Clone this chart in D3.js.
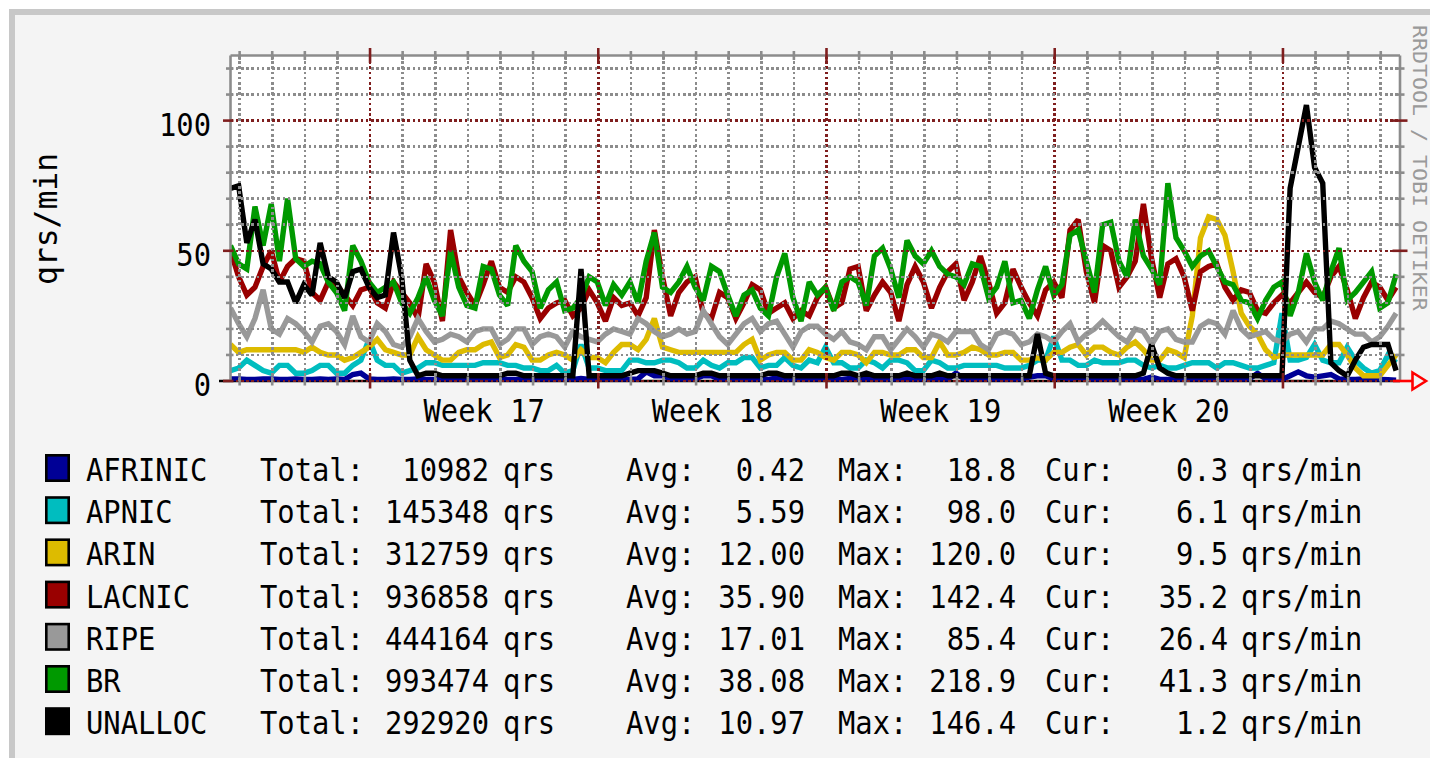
<!DOCTYPE html>
<html><head><meta charset="utf-8">
<script src="https://cdn.jsdelivr.net/npm/d3@7"></script>
<style>body{margin:0;background:#fff}svg{display:block}</style>
</head><body>
<svg id="c" width="1430" height="758"></svg>
<script>
// ---- data (6-hour samples, 144 per series) ----
const seriesNames = ["AFRINIC","APNIC","ARIN","LACNIC","RIPE","BR","UNALLOC"];
const seriesColors = ["#000096","#00bdbf","#ddbb00","#990000","#999999","#009900","#000000"];
const afrinic = [0.8,0.8,0.6,0.6,0.8,0.8,0.6,0.6,0.8,0.6,0.6,0.8,
  0.6,0.8,0.6,2.5,3,0.8,0.6,0.6,0.8,0.6,0.6,0.8,
  0.6,0.6,0.8,0.6,0.6,0.8,0.6,0.6,0.6,0.8,0.6,0.6,
  0.6,0.8,0.6,0.6,0.6,0.8,0.6,1,0.6,0.6,0.8,0.6,
  0.6,0.6,0.8,3.5,2,2,0.8,0.6,0.6,0.8,2,2,
  0.6,0.6,0.8,0.6,0.6,0.8,0.6,1.2,0.6,0.6,0.8,0.6,
  0.6,0.8,0.6,0.6,1,0.6,0.6,0.8,0.6,0.6,0.8,0.6,
  0.6,0.6,0.8,0.6,0.6,3,0.8,0.6,0.6,0.8,0.6,0.6,
  0.6,0.8,1.5,2,2,0.8,1.5,0.8,1.5,0.8,0.6,0.8,
  0.6,0.6,0.8,0.6,0.6,1.5,0.6,0.6,0.8,0.6,0.6,0.8,
  0.6,0.6,0.8,0.6,0.6,0.8,3,0.8,0.6,0.6,2,3.5,
  2,1.5,2,2.5,0.8,0.6,0.6,0.8,0.6,0.6,0.5,0.3];
const apnic = [4,5,8,6,4,3,6,6,3,3,4,6,
  6,3,3,6,8,16,8,6,6,3,4,5,
  7,7,6,6,6,6,6,7,7,7,6,6,
  5,5,4,4,6,3,4,14,5,5,4,4,
  4,8,8,7,7,8,8,7,5,5,8,6,
  5,7,7,9,9,5,6,6,9,6,5,8,
  7,13,7,7,5,5,8,7,5,8,8,7,
  4,4,8,7,5,5,6,6,6,6,6,5,
  5,5,6,8,8,17,8,8,6,6,8,7,
  7,7,8,8,6,5,6,5,5,6,7,7,
  7,5,7,7,6,5,5,6,7,26,8,8,
  9,14,8,7,7,13,8,5,3,4,10,7];
const arin = [14,11,12,12,12,12,12,12,12,11,13,11,
  10,10,8,9,11,13,16,12,11,10,10,17,
  12,10,8,8,11,12,12,14,15,9,10,14,
  13,8,8,10,11,10,8,12,9,9,7,11,
  14,14,12,16,24,13,12,11,11,11,11,11,
  11,11,11,14,16,8,10,11,11,8,8,12,
  11,9,8,11,11,10,7,11,11,10,10,12,
  12,9,9,15,10,10,11,13,12,10,10,11,
  11,8,8,9,8,11,11,13,14,10,13,13,
  11,10,13,15,12,8,8,12,11,9,25,55,
  63,62,56,42,26,21,18,12,9,10,10,10,
  10,10,10,14,14,10,5,2,2,2,6,10];
const lacnic = [50,40,33,36,44,50,38,44,47,46,34,31,
  38,37,33,29,35,36,30,28,38,34,30,24,
  45,38,23,58,40,34,29,37,46,36,34,40,
  38,32,24,28,30,31,25,28,35,30,23,32,
  29,30,25,32,58,40,25,34,38,40,26,24,
  34,32,24,30,37,35,26,28,30,24,27,25,
  32,36,28,30,43,44,27,33,38,34,23,37,
  44,38,28,36,42,45,31,38,48,38,26,30,
  43,36,30,25,35,38,32,58,62,42,30,52,
  50,36,40,46,68,47,32,45,47,40,27,42,
  44,45,36,31,35,34,27,26,30,33,30,34,
  38,34,32,40,44,35,24,32,38,36,31,36];
const ripe = [28,22,17,24,35,20,18,24,22,19,15,21,
  22,19,14,25,17,15,22,19,14,13,17,24,
  19,15,16,18,17,15,19,20,20,14,16,20,
  20,14,17,18,17,13,19,17,16,15,18,20,
  19,18,24,22,19,17,18,20,18,19,27,22,
  17,14,18,22,24,19,22,23,18,13,19,21,
  21,18,16,19,15,14,12,17,17,12,16,20,
  17,13,18,17,15,19,19,19,14,12,18,19,
  18,14,15,18,17,15,19,22,15,18,20,23,
  20,17,15,20,19,14,19,20,16,15,15,21,
  23,22,18,27,20,17,18,19,16,15,18,19,
  15,20,20,23,22,20,18,18,15,17,21,26];
const br = [52,45,43,67,52,68,46,70,47,44,46,45,
  38,34,27,52,46,38,34,36,38,30,26,32,
  40,31,25,50,36,29,28,44,43,33,29,52,
  46,42,28,35,38,27,28,32,40,38,29,37,
  33,38,30,46,57,36,34,38,44,36,31,44,
  42,33,25,33,35,28,25,40,49,32,23,38,
  33,36,27,38,40,38,29,48,51,43,32,54,
  48,45,50,44,41,40,37,45,44,32,36,46,
  30,31,24,35,44,33,37,56,58,46,34,60,
  61,46,40,62,48,43,37,76,55,50,44,48,
  50,44,38,37,31,30,24,31,36,38,25,34,
  49,38,31,42,51,31,34,38,42,28,30,41];
const unalloc = [74,75,53,62,45,43,38,38,30,37,33,53,
  40,38,32,42,43,36,32,33,57,40,8,2,
  3,3,2,2,2,2,2,2,2,2,3,3,
  2,2,2,2,2,2,2,43,2,2,2,2,
  2,3,4,4,4,3,2,2,2,2,3,3,
  2,2,2,2,2,2,3,3,2,2,2,2,
  2,2,2,3,3,2,3,2,2,2,2,3,
  2,2,2,3,2,2,2,2,2,2,2,2,
  2,2,2,18,3,2,2,2,2,2,2,2,
  2,2,2,2,3,14,5,3,2,2,2,2,
  2,2,2,2,2,2,2,2,2,2,74,90,
  106,82,76,7,4,2,8,13,14,14,14,4];
const seriesData = [afrinic, apnic, arin, lacnic, ripe, br, unalloc];
const totals = ["10982","145348","312759","936858","444164","993474","292920"];
const avgs = ["0.42","5.59","12.00","35.90","17.01","38.08","10.97"];
const maxs = ["18.8","98.0","120.0","142.4","85.4","218.9","146.4"];
const curs = ["0.3","6.1","9.5","35.2","26.4","41.3","1.2"];
const weekLabels = ["Week 17","Week 18","Week 19","Week 20"];
const weekMid = [3.5, 10.5, 17.5, 24.5];
const yLabelTicks = [0, 50, 100];
const yTitle = "qrs/min";
const watermark = "RRDTOOL / TOBI OETIKER";

// ---- layout ----
const T0 = -4.28, STEP = 0.25;
const PL = 230.5, PR = 1400, PT = 55.5, PB = 381;
const x = d3.scaleLinear().domain([T0, 31.59]).range([PL, PR]);
const y = d3.scaleLinear().domain([0, 125]).range([PB, PT]);
const GRAY = "#8c8c8c", MRED = "#7f1e1e", LW = 2.6;

const svg = d3.select("#c");
svg.append("rect").attr("width",1430).attr("height",758).attr("fill","#fff");
svg.append("rect").attr("x",9).attr("y",9).attr("width",1440).attr("height",760).attr("fill","#c8c8c8");
svg.append("rect").attr("x",15).attr("y",15).attr("width",1440).attr("height",760).attr("fill","#f4f4f4");
svg.append("rect").attr("x",PL).attr("y",PT).attr("width",PR-PL).attr("height",PB-PT).attr("fill","#fff");

function txt(sel, px, py, s, anchor, o) {
  o = o || {};
  const size = o.size || 32, sx = o.sx || 0.9, rot = o.rot || 0;
  return sel.append("text")
    .attr("transform", `translate(${px},${py})` + (rot ? ` rotate(${rot})` : "") + ` scale(${sx},1)`)
    .attr("text-anchor", anchor || "start")
    .attr("font-family", "'DejaVu Sans Mono', monospace")
    .attr("font-size", size).attr("fill", o.fill || "#000").text(s);
}

// x axis base line (under data)
svg.append("line").attr("x1",219).attr("x2",PR).attr("y1",PB).attr("y2",PB)
  .attr("stroke","#000").attr("stroke-width",LW);

// data lines
svg.append("clipPath").attr("id","pc").append("rect")
  .attr("x",PL).attr("y",PT-3).attr("width",PR-PL).attr("height",PB-PT+3.5);
const line = d3.line().x((d,i) => x(T0 + i*STEP)).y(d => y(d));
const gData = svg.append("g").attr("clip-path","url(#pc)");
seriesData.forEach((arr, k) => {
  gData.append("path").attr("d", line(arr)).attr("fill","none")
    .attr("stroke", seriesColors[k]).attr("stroke-width", 5.4)
    .attr("stroke-linejoin","miter").attr("stroke-miterlimit",2.5);
});

// grid (on top)
const days = d3.range(-4, 32);
const gGrid = svg.append("g").attr("shape-rendering","crispEdges");
days.forEach(d => {
  const major = d % 7 === 0;
  gGrid.append("line").attr("x1",x(d)).attr("x2",x(d)).attr("y1",PB).attr("y2",PT)
    .attr("stroke", major ? MRED : GRAY).attr("stroke-width",LW).attr("stroke-dasharray","2.6,2.6");
});
d3.range(0, 125, 10).forEach(v => {
  const major = v % 50 === 0;
  gGrid.append("line").attr("x1",PL).attr("x2",PR).attr("y1",y(v)).attr("y2",y(v))
    .attr("stroke", major ? MRED : GRAY).attr("stroke-width",LW).attr("stroke-dasharray","2.6,2.6");
});

// frame
const gF = svg.append("g");
gF.append("line").attr("x1",PL).attr("x2",PR).attr("y1",PT).attr("y2",PT).attr("stroke",GRAY).attr("stroke-width",LW);
gF.append("line").attr("x1",PL).attr("x2",PL).attr("y1",PT).attr("y2",PB).attr("stroke",GRAY).attr("stroke-width",LW);
gF.append("line").attr("x1",PR).attr("x2",PR).attr("y1",PT).attr("y2",PB).attr("stroke",GRAY).attr("stroke-width",LW);

// ticks
days.forEach(d => {
  const major = d % 7 === 0;
  const c = major ? MRED : GRAY, e = major ? 7.5 : 4.5;
  gF.append("line").attr("x1",x(d)).attr("x2",x(d)).attr("y1",PT-e).attr("y2",PT+e).attr("stroke",c).attr("stroke-width",LW);
  gF.append("line").attr("x1",x(d)).attr("x2",x(d)).attr("y1",PB-e).attr("y2",PB+e).attr("stroke",c).attr("stroke-width",LW);
});
d3.range(0, 125, 10).forEach(v => {
  const major = v % 50 === 0;
  const c = major ? MRED : GRAY, e = major ? 7.5 : 4.5;
  gF.append("line").attr("x1",PL-e).attr("x2",PL+3).attr("y1",y(v)).attr("y2",y(v)).attr("stroke",c).attr("stroke-width",LW);
  if (v > 0) gF.append("line").attr("x1",PR-e).attr("x2",PR+e).attr("y1",y(v)).attr("y2",y(v)).attr("stroke",c).attr("stroke-width",LW);
});
// arrow
gF.append("line").attr("x1",PR-7).attr("x2",1412).attr("y1",PB).attr("y2",PB).attr("stroke","#f00").attr("stroke-width",LW);
gF.append("path").attr("d",`M1412.5,${PB-8.5}L1426,${PB}L1412.5,${PB+8.5}Z`)
  .attr("fill","none").attr("stroke","#f00").attr("stroke-width",LW);

// axis labels
yLabelTicks.forEach(v => txt(svg, 211, y(v)+15, String(v), "end"));
weekLabels.forEach((s, k) => txt(svg, x(weekMid[k]), 422, s, "middle"));
txt(svg, 57, 219, yTitle, "middle", {rot:-90, sx:0.98});
txt(svg, 1413, 25, watermark, "start", {rot:90, size:20, sx:1.08, fill:"#9a9a9a"});

// legend
seriesNames.forEach((n, k) => {
  const top = 454 + k*42.2, base = top + 27;
  svg.append("rect").attr("x",46.3).attr("y",top+1.3).attr("width",22.4).attr("height",25.4)
    .attr("fill",seriesColors[k]).attr("stroke","#000").attr("stroke-width",LW);
  txt(svg, 86, base, n, "start");
  txt(svg, 260, base, "Total:", "start");
  txt(svg, 489, base, totals[k], "end");
  txt(svg, 503, base, "qrs", "start");
  txt(svg, 626, base, "Avg:", "start");
  txt(svg, 805, base, avgs[k], "end");
  txt(svg, 838, base, "Max:", "start");
  txt(svg, 1016, base, maxs[k], "end");
  txt(svg, 1045, base, "Cur:", "start");
  txt(svg, 1228, base, curs[k], "end");
  txt(svg, 1241, base, "qrs/min", "start");
});
</script>
</body></html>
